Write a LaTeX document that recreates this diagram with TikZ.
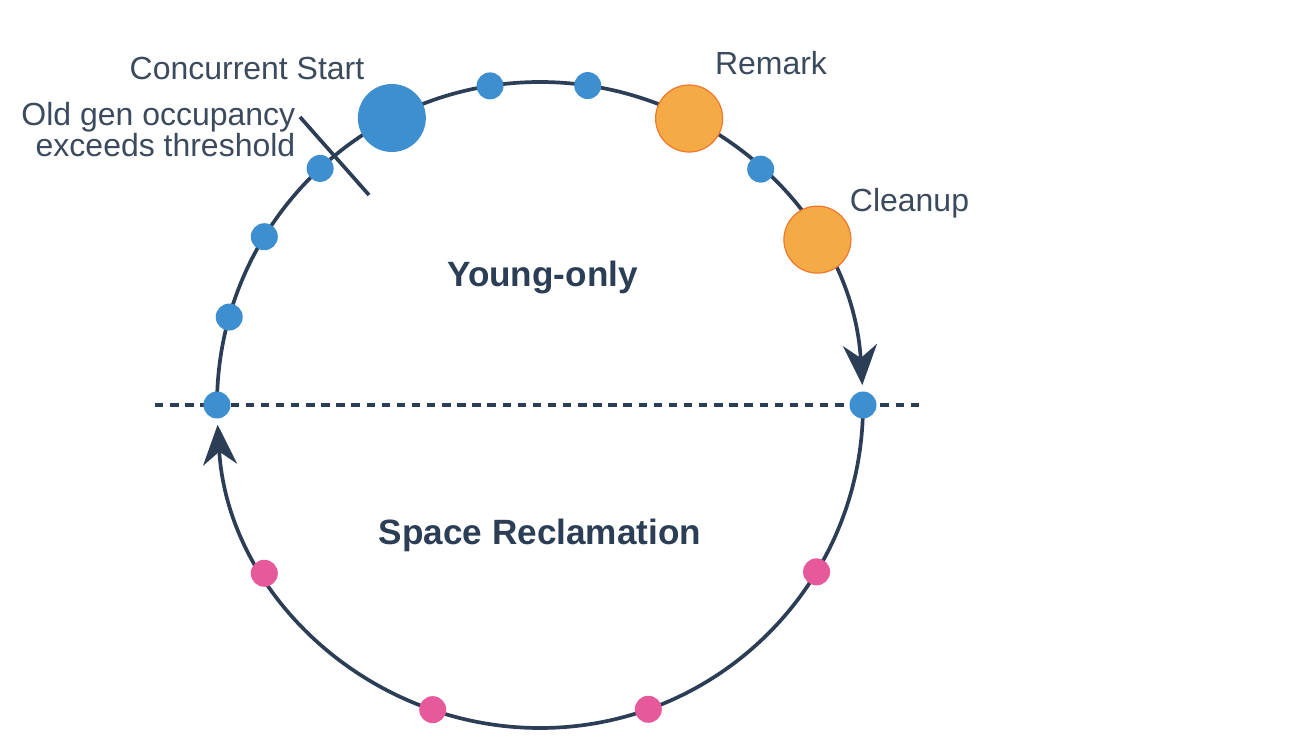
\documentclass[tikz,border=0pt]{standalone}
\usepackage{fontspec}
\setmainfont{Liberation Sans}
\usetikzlibrary{arrows.meta}
\definecolor{ringcol}{HTML}{2B3E55}
\definecolor{txtcol}{HTML}{3B4A5D}
\definecolor{gcblue}{HTML}{3D8FCF}
\definecolor{phasefill}{HTML}{F4AA45}
\definecolor{phaseedge}{HTML}{EE7A30}
\definecolor{mixpink}{HTML}{E6599B}
\tikzset{
    ring/.style={line width=1.05pt, color=ringcol},
    ringarrow/.style={ring, -{Stealth[length=4mm, width=3.4mm, inset=1.3mm]}},
    gcdot/.style={circle, fill=gcblue, inner sep=0pt, minimum size=2.7mm},
    bigdot/.style={gcdot, minimum size=6.8mm},
    phasedot/.style={circle, fill=phasefill, draw=phaseedge, line width=0.35pt,
                     inner sep=0pt, minimum size=6.7mm},
    mixdot/.style={gcdot, fill=mixpink},
    lbl/.style={text=txtcol, inner sep=0pt, font=\fontsize{9.1}{9.1}\selectfont},
    phase/.style={text=ringcol, inner sep=0pt, font=\fontsize{10}{12}\selectfont\bfseries}
}

\begin{document}
\begin{tikzpicture}
    \useasboundingbox (-5.40,-3.31) rectangle (7.65,4.05);

    % Dividing line
    \coordinate (dl) at (-3.85,0);
    \coordinate (dr) at (3.83,0);
    \draw[ring, line width=1.1pt, dash pattern=on 2.4pt off 1.9pt] (dl) -- (dr);

    % Cycle
    \draw[ringarrow] (180:3.23) arc (180:3.55:3.23);
    \draw[ringarrow] (0:3.23) arc (0:-176.5:3.23);

    % Threshold mark
    \coordinate (ta) at (-2.40,2.88);
    \coordinate (tb) at (-1.71,2.10);
    \draw[ring] (ta) -- (tb);

    % Young GCs
    \foreach \a in {98.9, 81.5, 46.9, 132.9, 148.6, 164.2}
        \node[gcdot] at (\a:3.23) {};
    \node[gcdot] (yl) at (180:3.23) {};
    \node[gcdot] (yr) at (0:3.23) {};

    % Mixed GCs
    \foreach \a in {211.4, 250.6, 289.6, 328.9}
        \node[mixdot] at (\a:3.23) {};

    % Concurrent phases
    \node[bigdot] (cstart) at (117.3:3.23) {};
    \node[phasedot] (remark) at (62.5:3.23) {};
    \node[phasedot] (cleanup) at (30.8:3.23) {};

    % Labels
    \node[lbl, anchor=base] (cstartlbl) at (-2.93,3.25) {Concurrent Start};
    \node[lbl, anchor=base east, align=right] (threslbl) at (-2.44,2.48)
        {Old gen occupancy\\exceeds threshold};
    \node[lbl, anchor=base] (remarklbl) at (2.31,3.30) {Remark};
    \node[lbl, anchor=base] (cleanuplbl) at (3.695,1.93) {Cleanup};
    \node[phase, anchor=base] (young) at (0.025,1.18) {Young-only};
    \node[phase, anchor=base] (reclaim) at (0,-1.39) {Space Reclamation};
\end{tikzpicture}
\end{document}
